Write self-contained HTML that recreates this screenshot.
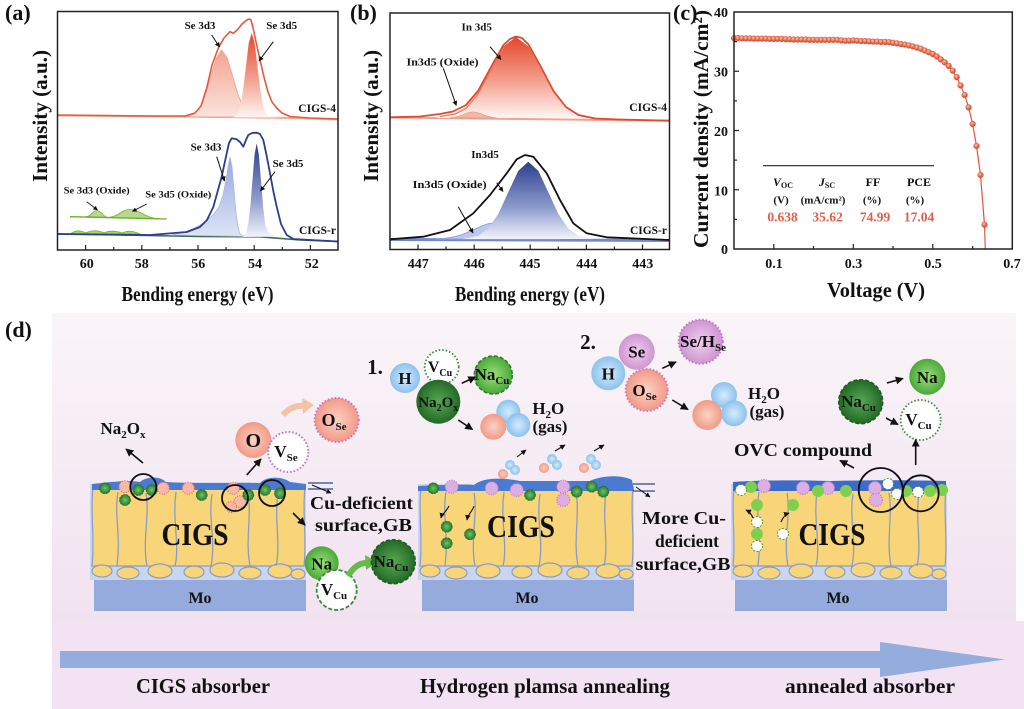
<!DOCTYPE html>
<html><head><meta charset="utf-8"><style>
html,body{margin:0;padding:0;background:#fff;}
svg{display:block;}
text{font-family:"Liberation Serif","Times New Roman",serif;font-weight:bold;fill:#111;}
</style></head><body>
<svg width="1024" height="709" viewBox="0 0 1024 709" xmlns="http://www.w3.org/2000/svg">
<defs>
<linearGradient id="gRed" x1="0" y1="0" x2="0" y2="1"><stop offset="0" stop-color="#e5472b"/><stop offset="0.55" stop-color="#f3a190"/><stop offset="1" stop-color="#fff6f3"/></linearGradient>
<linearGradient id="gSal" x1="0" y1="0" x2="0" y2="1"><stop offset="0" stop-color="#f2a493"/><stop offset="1" stop-color="#fbe3dc"/></linearGradient>
<linearGradient id="gNavy" x1="0" y1="0" x2="0" y2="1"><stop offset="0" stop-color="#2b3f8c"/><stop offset="0.6" stop-color="#8e9ccd"/><stop offset="1" stop-color="#f2f4fb"/></linearGradient>
<linearGradient id="gLB" x1="0" y1="0" x2="0" y2="1"><stop offset="0" stop-color="#95a8dd"/><stop offset="1" stop-color="#dde4f5"/></linearGradient>
<linearGradient id="gBg" x1="0" y1="0" x2="0" y2="1"><stop offset="0" stop-color="#faf5f8"/><stop offset="1" stop-color="#f1e2f0"/></linearGradient>
<radialGradient id="rSal"><stop offset="0" stop-color="#fbd2c6"/><stop offset="1" stop-color="#f29a86"/></radialGradient>
<radialGradient id="rBlue"><stop offset="0" stop-color="#d6ecfb"/><stop offset="1" stop-color="#8cc2ee"/></radialGradient>
<radialGradient id="rGreen"><stop offset="0" stop-color="#9be07a"/><stop offset="1" stop-color="#4aa83a"/></radialGradient>
<radialGradient id="rDG"><stop offset="0" stop-color="#5aa856"/><stop offset="1" stop-color="#226a26"/></radialGradient>
<radialGradient id="rVio"><stop offset="0" stop-color="#eed0ee"/><stop offset="1" stop-color="#cf95d2"/></radialGradient>
<radialGradient id="rDot"><stop offset="0" stop-color="#6cc56c"/><stop offset="1" stop-color="#2a7a2a"/></radialGradient>
<radialGradient id="rMk" cx="0.4" cy="0.35"><stop offset="0" stop-color="#ffc0a8"/><stop offset="1" stop-color="#dc553a"/></radialGradient>
<marker id="ah" viewBox="0 0 10 10" refX="9" refY="5" markerWidth="5" markerHeight="5" orient="auto"><path d="M0,0 L10,5 L0,10 z" fill="#111"/></marker>
<g id="blk">
 <rect x="0" y="484" width="216" height="96" fill="#c9d6ef"/>
 <path d="M3,488 C0,510 5,540 2,566 L214,566 C217,540 212,510 215,488 Z" fill="#f9d57a" stroke="#8a9cc6" stroke-width="1.2"/>
 <g fill="#f9d57a" stroke="#8a9cc6" stroke-width="1.2">
 <ellipse cx="12" cy="571" rx="10" ry="6"/><ellipse cx="38" cy="573" rx="11" ry="6"/><ellipse cx="70" cy="571" rx="12" ry="7"/>
 <ellipse cx="104" cy="572" rx="10" ry="6"/><ellipse cx="132" cy="570" rx="12" ry="7"/><ellipse cx="160" cy="573" rx="11" ry="6"/>
 <ellipse cx="190" cy="571" rx="12" ry="7"/><ellipse cx="208" cy="574" rx="7" ry="5"/>
 </g>
 <g fill="none" stroke="#8a9cc6" stroke-width="1.3">
 <path d="M28,492 C24,515 31,535 27,566"/><path d="M56,493 C60,515 52,540 57,566"/><path d="M86,492 C82,520 90,545 85,566"/>
 <path d="M122,494 C118,520 126,540 121,566"/><path d="M158,493 C162,515 155,540 160,566"/><path d="M188,492 C184,520 191,545 186,566"/>
 </g>
 <rect x="4" y="580" width="212" height="31" fill="#95abdd"/>
</g>
</defs>

<!-- ===== Panel (a) ===== -->
<text x="5" y="20" font-size="22">(a)</text>
<polyline points="58,115.5 180,116.5 290,118 338,119.5" fill="none" stroke="#f0a898" stroke-width="2"/>
<path d="M186,116.8 L188.7,116.3 L194.2,114.1 L199.7,107.9 L205.2,95.2 L210.7,76.4 L216.2,57.9 L221.7,50 L227.2,57.9 L232.7,76.4 L238.2,95.2 L243.7,107.9 L249.2,114.1 L254.7,116.3 L258,117 Z" fill="url(#gSal)" stroke="#eea090" stroke-width="0.8" stroke-linejoin="round"/>
<path d="M231.6,117.3 L234.45,116.6 L237.3,113.8 L240.2,106.1 L243.1,90.1 L245.95,66.3 L248.8,42.9 L251.7,33 L254.6,42.9 L257.45,66.3 L260.3,90.1 L263.2,106.1 L266.1,113.8 L270,116.8 L282,117.6 Z" fill="url(#gRed)" stroke-linejoin="round"/>
<polyline points="58,115 150,116 185,116 195,113 201,106 206.7,88 212,65 218.3,48 224,38 230,31.7 233.3,33.3 237.3,30 242,24 246.7,20 249.3,19 251,20 253.3,29 256,42 260,60 264,77 268,92 272,102 276.7,108 282,113 290,116.5 310,118 338,119" fill="none" stroke="#e35a3e" stroke-width="1.6" stroke-linejoin="round"/>
<text x="200" y="29" font-size="11" text-anchor="middle">Se 3d3</text>
<text x="281.7" y="29" font-size="11" text-anchor="middle">Se 3d5</text>
<line x1="211.7" y1="35" x2="219.5" y2="47" stroke="#111" stroke-width="1" marker-end="url(#ah)"/>
<line x1="273.3" y1="41.7" x2="259" y2="61" stroke="#111" stroke-width="1" marker-end="url(#ah)"/>
<text x="336" y="112" font-size="11.5" text-anchor="end">CIGS-4</text>

<polyline points="58,234 120,235 200,236.5 260,236.8 300,240 338,241.5" fill="none" stroke="#3d6b4f" stroke-width="1.6"/>
<path d="M70,234 C76,230 80,230 86,233 C92,230 98,230 104,233 C110,230 116,231 122,233 C128,230 134,231 140,234 Z" fill="#a9d46a" stroke="#6aae2a" stroke-width="0.8"/>
<path d="M172,235 L185,232 L195,228 L205,222 L213,215 L219,207 L223,195 L226,180 L228.1,166 L230,157 L231.9,166.1 L233.85,188.1 L235.8,210.6 L237.7,225.7 L239.6,233 L241.55,235.6 L250,236.5 Z" fill="url(#gLB)" stroke="#a9b8e2" stroke-width="0.8" stroke-linejoin="round"/>
<path d="M239,236.9 L241.8,236.8 L243.95,236 L246.1,232.9 L248.2,224.3 L250.3,206.6 L252.45,180.2 L254.6,154.3 L256.7,143.3 L258.8,154.3 L260.95,180.2 L263.1,206.6 L265.2,224.3 L268,232 L272,235 L280,236.8 Z" fill="url(#gNavy)" stroke-linejoin="round"/>
<polyline points="58,234 150,235 186.7,232 200,227 207,220 213.3,207 218,190 221.7,176.7 226.7,153.3 229,143 231.7,138.3 236.7,139.3 240,142 243.3,146.7 246,140 248.3,135 252,133 256.7,132.7 260,134 263.3,140 266.5,155 270,173.3 273.5,192 276.7,206.7 281,224 286.7,235 293.3,239 338,241.5" fill="none" stroke="#2c3e8c" stroke-width="1.8" stroke-linejoin="round"/>
<text x="206" y="150.5" font-size="11" text-anchor="middle">Se 3d3</text>
<text x="288" y="167" font-size="11" text-anchor="middle">Se 3d5</text>
<line x1="216.7" y1="156.7" x2="224.5" y2="181" stroke="#111" stroke-width="1" marker-end="url(#ah)"/>
<line x1="275" y1="171.7" x2="260.5" y2="191" stroke="#111" stroke-width="1" marker-end="url(#ah)"/>
<text x="336" y="234" font-size="11.5" text-anchor="end">CIGS-r</text>
<!-- oxide inset -->
<path d="M84,217 C92,217 92,210.5 97,210.5 C102,210.5 102,217.5 110,217.5 Z" fill="#b8d890" stroke="#78b030" stroke-width="0.8"/>
<path d="M105,217.5 C120,217.5 120,209.5 130,209.5 C140,209.5 145,218.5 160,218.8 Z" fill="#b8d890" stroke="#78b030" stroke-width="0.8"/>
<line x1="70" y1="216.7" x2="166.7" y2="219" stroke="#6aae2a" stroke-width="1.3"/>
<text x="96.7" y="193.5" font-size="9.5" text-anchor="middle" textLength="66" lengthAdjust="spacingAndGlyphs">Se 3d3 (Oxide)</text>
<text x="178.3" y="197.5" font-size="9.5" text-anchor="middle" textLength="66" lengthAdjust="spacingAndGlyphs">Se 3d5 (Oxide)</text>
<line x1="86.7" y1="201.7" x2="97.5" y2="210" stroke="#111" stroke-width="0.9" marker-end="url(#ah)"/>
<line x1="146.7" y1="204" x2="132.5" y2="211.3" stroke="#111" stroke-width="0.9" marker-end="url(#ah)"/>

<rect x="57.5" y="11.5" width="280.5" height="238.5" fill="none" stroke="#222" stroke-width="1.5"/>
<g stroke="#222" stroke-width="1.2">
<line x1="85.6" y1="250" x2="85.6" y2="245"/><line x1="113.7" y1="250" x2="113.7" y2="247"/>
<line x1="141.8" y1="250" x2="141.8" y2="245"/><line x1="169.9" y1="250" x2="169.9" y2="247"/>
<line x1="198" y1="250" x2="198" y2="245"/><line x1="226.1" y1="250" x2="226.1" y2="247"/>
<line x1="254.2" y1="250" x2="254.2" y2="245"/><line x1="282.3" y1="250" x2="282.3" y2="247"/>
<line x1="310.4" y1="250" x2="310.4" y2="245"/>
</g>
<g font-size="14" text-anchor="middle">
<text x="86.7" y="268">60</text><text x="141.8" y="268">58</text><text x="198.3" y="268">56</text><text x="255" y="268">54</text><text x="311.7" y="268">52</text>
</g>
<text x="197.5" y="301" font-size="21" text-anchor="middle" textLength="152" lengthAdjust="spacingAndGlyphs">Bending energy (eV)</text>
<text transform="translate(47,116) rotate(-90)" font-size="21" text-anchor="middle" textLength="132" lengthAdjust="spacingAndGlyphs">Intensity (a.u.)</text>

<!-- ===== Panel (b) ===== -->
<text x="350" y="20" font-size="22">(b)</text>
<polyline points="390,117.5 669,120.7" fill="none" stroke="#f2a090" stroke-width="2"/>
<path d="M436,118 L441,116.1 L453.5,113.5 L466,106.2 L478.5,91 L491,68.5 L503.5,46.4 L516,37 L528.5,46.4 L541,68.5 L553.5,91 L566,106.2 L578.5,113.5 L591,116.1 L600,118 Z" fill="url(#gRed)" stroke-linejoin="round"/>
<path d="M450,117.5 C462,117.5 465,112 473,112 C481,112 485,117.5 497,118 Z" fill="#f3b8ad" stroke="#eb9a8a" stroke-width="0.8"/>
<polyline points="440,116.5 455,114 466,108.5 478,94 491,70.5 503.5,47.5" fill="none" stroke="#ea7a62" stroke-width="1.2"/>
<polyline points="390,117.3 420,116.5 440,114 453,111.5 466,105 478,91 491,67 503.5,45 510,39 516,36.5 522,38 528.5,44.5 541,67 553.5,91 566,107 578.5,115 595,118.5 620,119.5 669,120.7" fill="none" stroke="#de4a2e" stroke-width="1.8" stroke-linejoin="round"/>
<text x="476.7" y="30.5" font-size="11" text-anchor="middle">In 3d5</text>
<line x1="490" y1="46.7" x2="501" y2="59.5" stroke="#111" stroke-width="1" marker-end="url(#ah)"/>
<text x="442.5" y="65.5" font-size="11" text-anchor="middle" textLength="72" lengthAdjust="spacingAndGlyphs">In3d5 (Oxide)</text>
<line x1="443.3" y1="68.3" x2="456.3" y2="105.5" stroke="#111" stroke-width="1" marker-end="url(#ah)"/>
<text x="667" y="111" font-size="11.5" text-anchor="end">CIGS-4</text>

<line x1="390" y1="239.5" x2="669" y2="240.5" stroke="#6e8ad0" stroke-width="3"/>
<path d="M436,239 C470,238 478,222.7 496.7,222.7 C515,222.7 525,238 560,239 Z" fill="#bcc8ec" stroke="#8fa4dc" stroke-width="1"/>
<path d="M462,239 L468.3,238.1 L478.3,235.6 L488.3,228.5 L498.3,213.9 L508.3,192.1 L518.3,170.8 L528.3,161.7 L538.3,170.8 L548.3,192.1 L558.3,213.9 L568.3,228.5 L578.3,235.6 L588.3,238.1 L595,239 Z" fill="url(#gNavy)" stroke-linejoin="round"/>
<polyline points="390,239.3 423.3,236.7 450,230 473.3,213.3 490,195 506.7,173.3 516.7,159.3 525,155 533.3,156.7 546.7,173.3 560,200 573.3,223.3 586.7,233.3 606.7,237.3 669,240" fill="none" stroke="#111" stroke-width="1.8" stroke-linejoin="round"/>
<text x="485" y="158" font-size="11" text-anchor="middle">In3d5</text>
<line x1="496.7" y1="182.7" x2="503" y2="191.5" stroke="#111" stroke-width="1" marker-end="url(#ah)"/>
<text x="449.7" y="188" font-size="11" text-anchor="middle" textLength="74" lengthAdjust="spacingAndGlyphs">In3d5 (Oxide)</text>
<line x1="458.3" y1="206.7" x2="473" y2="233" stroke="#111" stroke-width="1" marker-end="url(#ah)"/>
<text x="667" y="234" font-size="11.5" text-anchor="end">CIGS-r</text>

<rect x="390" y="13" width="279.5" height="236.5" fill="none" stroke="#222" stroke-width="1.5"/>
<g stroke="#222" stroke-width="1.2">
<line x1="418" y1="249.5" x2="418" y2="244.5"/><line x1="446" y1="249.5" x2="446" y2="246.5"/>
<line x1="474.2" y1="249.5" x2="474.2" y2="244.5"/><line x1="502.2" y1="249.5" x2="502.2" y2="246.5"/>
<line x1="530.2" y1="249.5" x2="530.2" y2="244.5"/><line x1="558.3" y1="249.5" x2="558.3" y2="246.5"/>
<line x1="586.4" y1="249.5" x2="586.4" y2="244.5"/><line x1="614.4" y1="249.5" x2="614.4" y2="246.5"/>
<line x1="642.5" y1="249.5" x2="642.5" y2="244.5"/>
</g>
<g font-size="14" text-anchor="middle">
<text x="418.3" y="268">447</text><text x="474.3" y="268">446</text><text x="530" y="268">445</text><text x="586.7" y="268">444</text><text x="642.7" y="268">443</text>
</g>
<text x="530" y="301" font-size="21" text-anchor="middle" textLength="150" lengthAdjust="spacingAndGlyphs">Bending energy (eV)</text>
<text transform="translate(378,116) rotate(-90)" font-size="21" text-anchor="middle" textLength="132" lengthAdjust="spacingAndGlyphs">Intensity (a.u.)</text>

<!-- ===== Panel (c) ===== -->
<text x="673" y="20" font-size="22">(c)</text>
<polyline points="734,38.07 773.8,38.96 813.5,39.85 837.4,39.85 853.3,40.44 873.2,41.63 893,42.81 905,44.59 916.9,47.55 924.8,50.51 932.8,54.07 940.8,59.4 948.7,65.92 956.7,77.18 960.6,85.47 964.6,94.95 968.6,107.39 972.6,123.98 976.5,145.91 980.5,174.94 984.5,224.71 985.3,249" fill="none" stroke="#e0553a" stroke-width="1.2"/>
<g fill="url(#rMk)" stroke="#c84a30" stroke-width="0.4">
<circle cx="734" cy="38.07" r="2.9"/><circle cx="738" cy="38.07" r="2.9"/><circle cx="742" cy="38.36" r="2.9"/><circle cx="745.9" cy="38.36" r="2.9"/>
<circle cx="749.9" cy="38.36" r="2.9"/><circle cx="753.9" cy="38.66" r="2.9"/><circle cx="757.9" cy="38.66" r="2.9"/><circle cx="761.8" cy="38.66" r="2.9"/>
<circle cx="765.8" cy="38.66" r="2.9"/><circle cx="769.8" cy="38.96" r="2.9"/><circle cx="773.8" cy="38.96" r="2.9"/><circle cx="777.7" cy="38.96" r="2.9"/>
<circle cx="781.7" cy="38.96" r="2.9"/><circle cx="785.7" cy="39.26" r="2.9"/><circle cx="789.7" cy="39.26" r="2.9"/><circle cx="793.6" cy="39.55" r="2.9"/>
<circle cx="797.6" cy="39.55" r="2.9"/><circle cx="801.6" cy="39.55" r="2.9"/><circle cx="805.6" cy="39.55" r="2.9"/><circle cx="809.5" cy="39.85" r="2.9"/>
<circle cx="813.5" cy="39.85" r="2.9"/><circle cx="817.5" cy="39.85" r="2.9"/><circle cx="821.5" cy="39.85" r="2.9"/><circle cx="825.4" cy="39.85" r="2.9"/>
<circle cx="829.4" cy="39.85" r="2.9"/><circle cx="833.4" cy="39.85" r="2.9"/><circle cx="837.4" cy="39.85" r="2.9"/><circle cx="841.4" cy="40.44" r="2.9"/>
<circle cx="845.3" cy="40.74" r="2.9"/><circle cx="849.3" cy="40.74" r="2.9"/><circle cx="853.3" cy="40.44" r="2.9"/><circle cx="857.3" cy="40.74" r="2.9"/>
<circle cx="861.2" cy="41.03" r="2.9"/><circle cx="865.2" cy="41.03" r="2.9"/><circle cx="869.2" cy="41.33" r="2.9"/><circle cx="873.2" cy="41.63" r="2.9"/>
<circle cx="877.1" cy="41.63" r="2.9"/><circle cx="881.1" cy="41.93" r="2.9"/><circle cx="885.1" cy="41.93" r="2.9"/><circle cx="889.1" cy="42.22" r="2.9"/>
<circle cx="893" cy="42.81" r="2.9"/><circle cx="897" cy="43.4" r="2.9"/><circle cx="901" cy="44" r="2.9"/><circle cx="905" cy="44.59" r="2.9"/>
<circle cx="908.9" cy="45.48" r="2.9"/><circle cx="912.9" cy="46.37" r="2.9"/><circle cx="916.9" cy="47.55" r="2.9"/><circle cx="920.9" cy="48.74" r="2.9"/>
<circle cx="924.8" cy="50.51" r="2.9"/><circle cx="928.8" cy="52.29" r="2.9"/><circle cx="932.8" cy="54.07" r="2.9"/><circle cx="936.8" cy="56.44" r="2.9"/>
<circle cx="940.8" cy="59.4" r="2.9"/><circle cx="944.7" cy="62.36" r="2.9"/><circle cx="948.7" cy="65.92" r="2.9"/><circle cx="952.7" cy="70.66" r="2.9"/>
<circle cx="956.7" cy="77.18" r="2.9"/><circle cx="960.6" cy="85.47" r="2.9"/><circle cx="964.6" cy="94.95" r="2.9"/><circle cx="968.6" cy="107.39" r="2.9"/>
<circle cx="972.6" cy="123.98" r="2.9"/><circle cx="976.5" cy="145.91" r="2.9"/><circle cx="980.5" cy="174.94" r="2.9"/><circle cx="984.5" cy="224.71" r="2.9"/>
</g>
<rect x="734" y="12" width="278.3" height="237" fill="none" stroke="#222" stroke-width="1.5"/>
<g stroke="#222" stroke-width="1.2">
<line x1="734" y1="219.4" x2="737" y2="219.4"/><line x1="734" y1="189.75" x2="739" y2="189.75"/>
<line x1="734" y1="160.1" x2="737" y2="160.1"/><line x1="734" y1="130.5" x2="739" y2="130.5"/>
<line x1="734" y1="100.9" x2="737" y2="100.9"/><line x1="734" y1="71.25" x2="739" y2="71.25"/>
<line x1="734" y1="41.6" x2="737" y2="41.6"/>
<line x1="773.8" y1="249" x2="773.8" y2="244"/><line x1="813.5" y1="249" x2="813.5" y2="246"/>
<line x1="853.3" y1="249" x2="853.3" y2="244"/><line x1="893" y1="249" x2="893" y2="246"/>
<line x1="932.8" y1="249" x2="932.8" y2="244"/><line x1="972.6" y1="249" x2="972.6" y2="246"/>
</g>
<g font-size="14" text-anchor="end">
<text x="728" y="17">40</text><text x="728" y="76.5">30</text><text x="728" y="136">20</text><text x="728" y="195.3">10</text><text x="728" y="254">0</text>
</g>
<g font-size="14" text-anchor="middle">
<text x="774" y="268">0.1</text><text x="853.5" y="268">0.3</text><text x="933" y="268">0.5</text><text x="1012" y="268">0.7</text>
</g>
<text x="876" y="297" font-size="21" text-anchor="middle" textLength="98" lengthAdjust="spacingAndGlyphs">Voltage (V)</text>
<text transform="translate(708,129) rotate(-90)" font-size="21" text-anchor="middle" textLength="238" lengthAdjust="spacingAndGlyphs">Current density (mA/cm²)</text>
<line x1="763" y1="165.7" x2="934" y2="165.7" stroke="#222" stroke-width="1.2"/>
<g font-size="12" text-anchor="middle">
<text x="783" y="186"><tspan font-style="italic">V</tspan><tspan font-size="8" dy="2">OC</tspan></text>
<text x="827" y="186"><tspan font-style="italic">J</tspan><tspan font-size="8" dy="2">SC</tspan></text>
<text x="873" y="186">FF</text>
<text x="919" y="186">PCE</text>
<text x="781" y="203.5" font-size="11">(V)</text>
<text x="823" y="203.5" font-size="11">(mA/cm²)</text>
<text x="872" y="203.5" font-size="11">(%)</text>
<text x="915" y="203.5" font-size="11">(%)</text>
</g>
<g font-size="13.5" text-anchor="middle" style="fill:#e0604a">
<text x="782.5" y="221.5" style="fill:#e0604a">0.638</text><text x="827.5" y="221.5" style="fill:#e0604a">35.62</text>
<text x="875" y="221.5" style="fill:#e0604a">74.99</text><text x="919" y="221.5" style="fill:#e0604a">17.04</text>
</g>

<!-- ===== Panel (d) ===== -->
<rect x="52" y="313" width="964" height="308" fill="url(#gBg)"/>
<rect x="52" y="621" width="972" height="88" fill="#f3e1f4"/>
<text x="5" y="337" font-size="22">(d)</text>

<use href="#blk" transform="translate(90,0)"/>
<use href="#blk" transform="translate(418,0)"/>
<use href="#blk" transform="translate(731,0)"/>

<!-- block 1 surface -->
<path d="M92,490 L92,484 C110,482 130,480 140,482 C147,476 160,476 166,482 C200,484 240,482 260,483 C266,476 282,476 290,482 L306,484 L306,490 Z" fill="#4b7bd0"/>
<g stroke="#e06a6a" stroke-width="1.2" stroke-dasharray="1 1.5" fill="#f7b8a8">
<circle cx="125" cy="486.7" r="6"/><circle cx="163.3" cy="488.3" r="6"/><circle cx="188.3" cy="488.3" r="6"/>
<circle cx="233.3" cy="488.3" r="6"/><circle cx="240" cy="501.7" r="6"/><circle cx="231" cy="507" r="5.5"/>
</g>
<g fill="url(#rDot)" stroke="#2d6e2d" stroke-width="0.8" stroke-dasharray="2 1">
<circle cx="105" cy="488.3" r="5.5"/><circle cx="125" cy="500" r="5.5"/><circle cx="138.3" cy="490" r="5.5"/><circle cx="151.7" cy="490" r="5.5"/>
<circle cx="201.7" cy="495" r="5.5"/><circle cx="248.3" cy="495" r="5.5"/><circle cx="265" cy="490" r="5.5"/><circle cx="280" cy="493.3" r="5.5"/>
</g>
<g fill="none" stroke="#111" stroke-width="1.8">
<circle cx="143.3" cy="487" r="13"/><circle cx="235" cy="498" r="13"/><circle cx="272" cy="493" r="13"/>
</g>
<text x="195" y="545" font-size="32" text-anchor="middle" textLength="67" lengthAdjust="spacingAndGlyphs">CIGS</text>
<text x="200" y="603" font-size="16" text-anchor="middle">Mo</text>

<!-- block 2 surface -->
<path d="M418,491 L418,486 C440,485 466,484 474,485 C482,478 500,477 520,481 L590,481 C600,476 620,474 632,480 L634,491 Z" fill="#4b7bd0"/>
<g stroke="#c070c8" stroke-width="1.2" stroke-dasharray="1 1.5" fill="#dcaee4">
<circle cx="451.7" cy="486.7" r="6.5"/><circle cx="491.7" cy="488.3" r="6.5"/><circle cx="516.7" cy="490" r="6.5"/>
<circle cx="563.3" cy="486.7" r="6.5"/><circle cx="563.3" cy="500" r="6.5"/>
</g>
<g fill="url(#rDot)" stroke="#2d6e2d" stroke-width="0.8" stroke-dasharray="2 1">
<circle cx="433.3" cy="488.3" r="5.5"/><circle cx="530" cy="495" r="5.5"/><circle cx="576.7" cy="491.7" r="5.5"/><circle cx="591.7" cy="486.7" r="5.5"/>
<circle cx="603.3" cy="491.7" r="5.5"/><circle cx="446.7" cy="526.7" r="5.5"/><circle cx="446.7" cy="543.3" r="5.5"/><circle cx="470" cy="534.3" r="5.5"/>
</g>
<g fill="none" stroke="#111" stroke-width="1.1">
<path d="M449,506 C446,512 442,514 441,518" marker-end="url(#ah)"/><path d="M474,506 C472,512 468,514 467,520" marker-end="url(#ah)"/>
<path d="M517,457 L526,450" marker-end="url(#ah)"/><path d="M555,451 L565,445" marker-end="url(#ah)"/><path d="M594,451 L604,445" marker-end="url(#ah)"/>
</g>
<g>
<circle cx="503" cy="474" r="5" fill="url(#rSal)"/><circle cx="510" cy="465" r="5" fill="url(#rBlue)"/><circle cx="515" cy="470" r="5" fill="url(#rBlue)"/>
<circle cx="544" cy="468" r="5" fill="url(#rSal)"/><circle cx="552" cy="459" r="5" fill="url(#rBlue)"/><circle cx="557" cy="465" r="5" fill="url(#rBlue)"/>
<circle cx="584" cy="468" r="5" fill="url(#rSal)"/><circle cx="591" cy="459" r="5" fill="url(#rBlue)"/><circle cx="596" cy="465" r="5" fill="url(#rBlue)"/>
</g>
<text x="521" y="537" font-size="32" text-anchor="middle" textLength="68" lengthAdjust="spacingAndGlyphs">CIGS</text>
<text x="527" y="603" font-size="16" text-anchor="middle">Mo</text>

<!-- block 3 surface -->
<path d="M733,491 L733,482 C760,480 800,480 830,481 C870,480 910,480 946,481 L946,491 Z" fill="#3d6cc8"/>
<g stroke="#c070c8" stroke-width="1.2" stroke-dasharray="1 1.5" fill="#dcaee4">
<circle cx="764" cy="486" r="6.5"/><circle cx="803" cy="488" r="6.5"/><circle cx="828" cy="488" r="6.5"/>
<circle cx="875" cy="488" r="6.5"/><circle cx="876" cy="500" r="6.5"/>
</g>
<g fill="#7fcf4e">
<circle cx="751" cy="487" r="6"/><circle cx="818" cy="491" r="6"/><circle cx="846" cy="491" r="6"/><circle cx="930" cy="491" r="6"/>
<circle cx="942" cy="490" r="6"/><circle cx="906" cy="491" r="6"/><circle cx="757" cy="505" r="6"/><circle cx="793" cy="505" r="6"/><circle cx="757" cy="534" r="6"/>
</g>
<g fill="#fff" stroke="#4a8a2a" stroke-width="0.9" stroke-dasharray="2 1.5">
<circle cx="741" cy="490" r="5.5"/><circle cx="888" cy="484" r="5.5"/><circle cx="897" cy="494" r="5.5"/><circle cx="918" cy="492" r="5.5"/>
<circle cx="757" cy="522" r="5.5"/><circle cx="757" cy="546" r="5.5"/><circle cx="783" cy="534" r="5.5"/>
</g>
<g fill="none" stroke="#111" stroke-width="1.1">
<path d="M753,518 C751,513 748,511 746,510" marker-end="url(#ah)"/><path d="M781,522 C783,517 786,514 789,513" marker-end="url(#ah)"/>
</g>
<g fill="none" stroke="#111" stroke-width="1.8">
<circle cx="880.7" cy="490" r="22"/><circle cx="920.7" cy="493.3" r="18"/>
</g>
<text x="832" y="545" font-size="32" text-anchor="middle" textLength="67" lengthAdjust="spacingAndGlyphs">CIGS</text>
<text x="838" y="603" font-size="16" text-anchor="middle">Mo</text>

<!-- left annotations -->
<text x="123" y="434" font-size="17" text-anchor="middle">Na<tspan font-size="11" dy="4">2</tspan><tspan dy="-4">O</tspan><tspan font-size="11" dy="4">x</tspan></text>
<line x1="143" y1="463" x2="126" y2="449" stroke="#111" stroke-width="1.6" marker-end="url(#ah)"/>
<circle cx="253.3" cy="440" r="18" fill="url(#rSal)"/>
<text x="253.3" y="447" font-size="20" text-anchor="middle">O</text>
<circle cx="288.3" cy="452" r="20" fill="#fff" stroke="#c86cc8" stroke-width="2" stroke-dasharray="1.5 2"/>
<text x="286" y="457" font-size="17" text-anchor="middle">V<tspan font-size="11" dy="4">Se</tspan></text>
<path d="M283,415 Q292,405 303,406" fill="none" stroke="#f3c3a6" stroke-width="6"/>
<polygon points="302,398 314,405 303,414" fill="#f3c3a6"/>
<circle cx="336.7" cy="420" r="22" fill="url(#rSal)" stroke="#d070c8" stroke-width="2" stroke-dasharray="1.5 2"/>
<text x="334" y="426" font-size="18" text-anchor="middle">O<tspan font-size="11" dy="4">Se</tspan></text>
<line x1="246.7" y1="475" x2="261" y2="459" stroke="#111" stroke-width="1.6" marker-end="url(#ah)"/>
<line x1="293" y1="513" x2="305" y2="525" stroke="#111" stroke-width="1.6" marker-end="url(#ah)"/>
<g stroke="#2a4a8a" stroke-width="1.2"><line x1="308" y1="483" x2="333" y2="483"/><line x1="308" y1="489" x2="333" y2="489"/></g>
<line x1="312" y1="485" x2="331" y2="493" stroke="#111" stroke-width="1" marker-end="url(#ah)"/>
<text x="361.5" y="509" font-size="18" text-anchor="middle" textLength="103" lengthAdjust="spacingAndGlyphs">Cu-deficient</text>
<text x="363.5" y="531" font-size="18" text-anchor="middle" textLength="97" lengthAdjust="spacingAndGlyphs">surface,GB</text>
<circle cx="321.7" cy="563.3" r="17" fill="url(#rGreen)"/>
<text x="321.7" y="569.5" font-size="17" text-anchor="middle">Na</text>
<circle cx="336.7" cy="590" r="20" fill="#fff" stroke="#3a8a3a" stroke-width="1.8" stroke-dasharray="4 2"/>
<text x="334" y="595" font-size="17" text-anchor="middle">V<tspan font-size="11" dy="4">Cu</tspan></text>
<path d="M348,576 Q356,563 366,563" fill="none" stroke="#66bb4a" stroke-width="6"/>
<polygon points="365,555 377,562 366,570" fill="#66bb4a"/>
<circle cx="393.3" cy="561.7" r="22" fill="url(#rDG)" stroke="#1f5a22" stroke-width="1.5" stroke-dasharray="4 2"/>
<text x="391" y="567" font-size="17" text-anchor="middle">Na<tspan font-size="11" dy="4">Cu</tspan></text>

<!-- middle annotations -->
<text x="375" y="374" font-size="21" text-anchor="middle">1.</text>
<circle cx="405" cy="378" r="15" fill="url(#rBlue)"/>
<text x="405" y="384" font-size="17" text-anchor="middle">H</text>
<circle cx="441.7" cy="367" r="17" fill="#fff" stroke="#3a8a3a" stroke-width="1.8" stroke-dasharray="1.5 2"/>
<text x="440" y="372" font-size="16" text-anchor="middle">V<tspan font-size="10" dy="4">Cu</tspan></text>
<circle cx="438.3" cy="401.7" r="22" fill="url(#rDG)"/>
<text x="438.3" y="407" font-size="15" text-anchor="middle">Na<tspan font-size="10" dy="4">2</tspan><tspan dy="-4">O</tspan><tspan font-size="10" dy="4">x</tspan></text>
<circle cx="493.3" cy="375" r="19" fill="url(#rGreen)" stroke="#2f7a2f" stroke-width="1.5" stroke-dasharray="4 2"/>
<text x="492" y="380" font-size="17" text-anchor="middle">Na<tspan font-size="11" dy="4">Cu</tspan></text>
<line x1="461.7" y1="383.3" x2="475.5" y2="377" stroke="#111" stroke-width="1.6" marker-end="url(#ah)"/>
<line x1="458.3" y1="420" x2="472.5" y2="429.5" stroke="#111" stroke-width="1.6" marker-end="url(#ah)"/>
<circle cx="508.3" cy="411.7" r="12" fill="url(#rBlue)"/>
<circle cx="493.3" cy="426.7" r="13" fill="url(#rSal)"/>
<circle cx="518.3" cy="425" r="12" fill="url(#rBlue)"/>
<text x="548.3" y="414" font-size="17" text-anchor="middle">H<tspan font-size="11" dy="4">2</tspan><tspan dy="-4">O</tspan></text>
<text x="550" y="432" font-size="17" text-anchor="middle">(gas)</text>

<!-- right-middle annotations -->
<text x="588" y="349" font-size="21" text-anchor="middle">2.</text>
<circle cx="636.7" cy="351.7" r="18" fill="url(#rVio)"/>
<text x="636.7" y="357.5" font-size="17" text-anchor="middle">Se</text>
<circle cx="608.3" cy="373.3" r="17" fill="url(#rBlue)"/>
<text x="608.3" y="379.5" font-size="17" text-anchor="middle">H</text>
<circle cx="646.7" cy="390" r="21" fill="url(#rSal)" stroke="#d070c8" stroke-width="2" stroke-dasharray="1.5 2"/>
<text x="644.5" y="396" font-size="17" text-anchor="middle">O<tspan font-size="11" dy="4">Se</tspan></text>
<circle cx="700.7" cy="341.7" r="22" fill="url(#rVio)" stroke="#c070c8" stroke-width="2" stroke-dasharray="1.5 2"/>
<text x="703" y="347" font-size="17" text-anchor="middle">Se/H<tspan font-size="11" dy="4">Se</tspan></text>
<line x1="662.3" y1="368.3" x2="676" y2="362" stroke="#111" stroke-width="1.6" marker-end="url(#ah)"/>
<line x1="672.3" y1="400" x2="688" y2="409.5" stroke="#111" stroke-width="1.6" marker-end="url(#ah)"/>
<circle cx="724" cy="395" r="13" fill="url(#rBlue)"/>
<circle cx="707.3" cy="415" r="15" fill="url(#rSal)"/>
<circle cx="734" cy="413.3" r="13" fill="url(#rBlue)"/>
<text x="764" y="399" font-size="17" text-anchor="middle">H<tspan font-size="11" dy="4">2</tspan><tspan dy="-4">O</tspan></text>
<text x="767" y="417" font-size="17" text-anchor="middle">(gas)</text>
<g stroke="#2a4a8a" stroke-width="1.2"><line x1="633" y1="484" x2="655" y2="484"/><line x1="633" y1="491" x2="655" y2="491"/></g>
<line x1="636" y1="487" x2="650" y2="497" stroke="#111" stroke-width="1" marker-end="url(#ah)"/>
<text x="684" y="524" font-size="18" text-anchor="middle" textLength="84" lengthAdjust="spacingAndGlyphs">More Cu-</text>
<text x="687" y="547" font-size="18" text-anchor="middle" textLength="64" lengthAdjust="spacingAndGlyphs">deficient</text>
<text x="683" y="570" font-size="18" text-anchor="middle" textLength="95" lengthAdjust="spacingAndGlyphs">surface,GB</text>

<!-- far right annotations -->
<circle cx="860.7" cy="401.7" r="22" fill="url(#rDG)" stroke="#1f5a22" stroke-width="1.5" stroke-dasharray="4 2"/>
<text x="858.5" y="407" font-size="17" text-anchor="middle">Na<tspan font-size="11" dy="4">Cu</tspan></text>
<circle cx="927.3" cy="376.7" r="18" fill="url(#rGreen)"/>
<text x="927.3" y="383" font-size="17" text-anchor="middle">Na</text>
<circle cx="920.7" cy="420" r="20" fill="#fff" stroke="#3a8a3a" stroke-width="1.8" stroke-dasharray="1.5 2"/>
<text x="918.5" y="425" font-size="17" text-anchor="middle">V<tspan font-size="11" dy="4">Cu</tspan></text>
<line x1="887" y1="383" x2="903" y2="378.5" stroke="#111" stroke-width="1.6" marker-end="url(#ah)"/>
<line x1="886" y1="418" x2="898" y2="424.5" stroke="#111" stroke-width="1.6" marker-end="url(#ah)"/>
<line x1="915.7" y1="465" x2="915.7" y2="439.5" stroke="#111" stroke-width="1.6" marker-end="url(#ah)"/>
<text x="803" y="456" font-size="18" text-anchor="middle" textLength="138" lengthAdjust="spacingAndGlyphs">OVC compound</text>
<line x1="854" y1="468" x2="840" y2="460.5" stroke="#111" stroke-width="1.6" marker-end="url(#ah)"/>

<!-- bottom arrow -->
<polygon points="60,651 880,651 880,642 1005,659.5 880,677 880,668 60,668" fill="#94addc"/>
<text x="203" y="693" font-size="21" text-anchor="middle" textLength="134" lengthAdjust="spacingAndGlyphs">CIGS absorber</text>
<text x="545" y="693" font-size="21" text-anchor="middle" textLength="250" lengthAdjust="spacingAndGlyphs">Hydrogen plamsa annealing</text>
<text x="870" y="693" font-size="21" text-anchor="middle" textLength="170" lengthAdjust="spacingAndGlyphs">annealed absorber</text>
</svg>
</body></html>
